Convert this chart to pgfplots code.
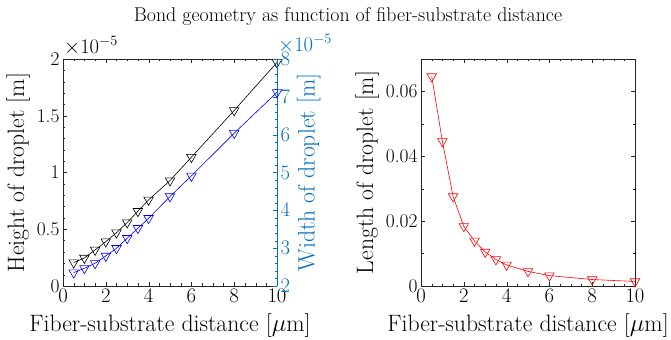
\documentclass[border=0pt]{standalone}
\usepackage{pgfplots}
\pgfplotsset{compat=1.18}
\definecolor{mblue}{rgb}{0,0.447,0.741}
\definecolor{axgray}{rgb}{0.15,0.15,0.15}
\pgfplotsset{
  every axis/.append style={
    scale only axis, width=214bp, height=227bp,
    tick label style={font=\fontsize{19.5}{22}\selectfont},
    label style={font=\fontsize{23.8}{28}\selectfont},
    axis line style={axgray}, tick style={axgray},
    major tick length=4bp, minor tick length=2.5bp,
    tick align=inside,
    scaled y ticks=false, scaled x ticks=false,
    xlabel style={yshift=-4bp},
  }
}
\begin{document}
\begin{tikzpicture}
\path[use as bounding box] (-63bp,-54bp) rectangle (608bp,286bp);
\begin{axis}[name=left,
  xmin=0, xmax=10, ymin=0, ymax=2,
  xtick={0,2,...,10}, ytick={0,0.5,1,1.5,2},
  yticklabels={0,0.5,1,1.5,2},
  minor x tick num=3, minor y tick num=4,
  axis y line*=left, axis x line*=box,
  xlabel={Fiber-substrate distance [$\mu$m]},
  ylabel={Height of droplet [m]},
  clip=false,
]
\addplot[black, line width=0.6pt, mark=triangle, mark size=5.5pt, mark options={rotate=180, solid}] coordinates {
(0.5,0.206) (1,0.247) (1.5,0.318) (2,0.391) (2.5,0.47) (3,0.559) (3.5,0.659) (4,0.759) (5,0.929) (6,1.135) (8,1.547) (10,1.97)};
\node[anchor=south west, font=\fontsize{19.5}{22}\selectfont, inner sep=1bp, yshift=3bp] at (rel axis cs:0,1) {$\times10^{-5}$};
\end{axis}
\begin{axis}[
  xmin=0, xmax=10, ymin=2, ymax=8,
  axis x line=none, axis y line*=right,
  ytick={2,3,...,8}, minor y tick num=4,
  y axis line style={mblue}, ytick style={mblue},
  yticklabel style={text=mblue},
  ylabel={Width of droplet [m]}, ylabel style={text=mblue},
  clip=false,
]
\addplot[blue, line width=0.6pt, mark=triangle, mark size=5.5pt, mark options={rotate=180, solid}] coordinates {
(0.5,2.353) (1,2.468) (1.5,2.60) (2,2.794) (2.5,2.997) (3,3.262) (3.5,3.527) (4,3.79) (5,4.365) (6,4.91) (8,6.04) (10,7.12)};
\node[anchor=south west, font=\fontsize{19.5}{22}\selectfont, text=mblue, inner sep=1bp, yshift=5bp] at (rel axis cs:1,1) {$\times10^{-5}$};
\end{axis}
\begin{axis}[at={(358bp,0)},
  xmin=0, xmax=10, ymin=0, ymax=0.07,
  xtick={0,2,...,10}, ytick={0,0.02,0.04,0.06},
  yticklabels={0,0.02,0.04,0.06},
  minor x tick num=3, minor y tick num=1,
  xlabel={Fiber-substrate distance [$\mu$m]},
  ylabel={Length of droplet [m]},
]
\addplot[red, line width=0.6pt, mark=triangle, mark size=5.5pt, mark options={rotate=180, solid}] coordinates {
(0.5,0.0646) (1,0.0446) (1.5,0.0276) (2,0.0184) (2.5,0.0139) (3,0.0105) (3.5,0.0082) (4,0.0065) (5,0.0045) (6,0.0032) (8,0.0020) (10,0.0014)};
\end{axis}
\node[font=\fontsize{20}{24}\selectfont, anchor=base] at (285bp,264bp) {Bond geometry as function of fiber-substrate distance};
\end{tikzpicture}
\end{document}
